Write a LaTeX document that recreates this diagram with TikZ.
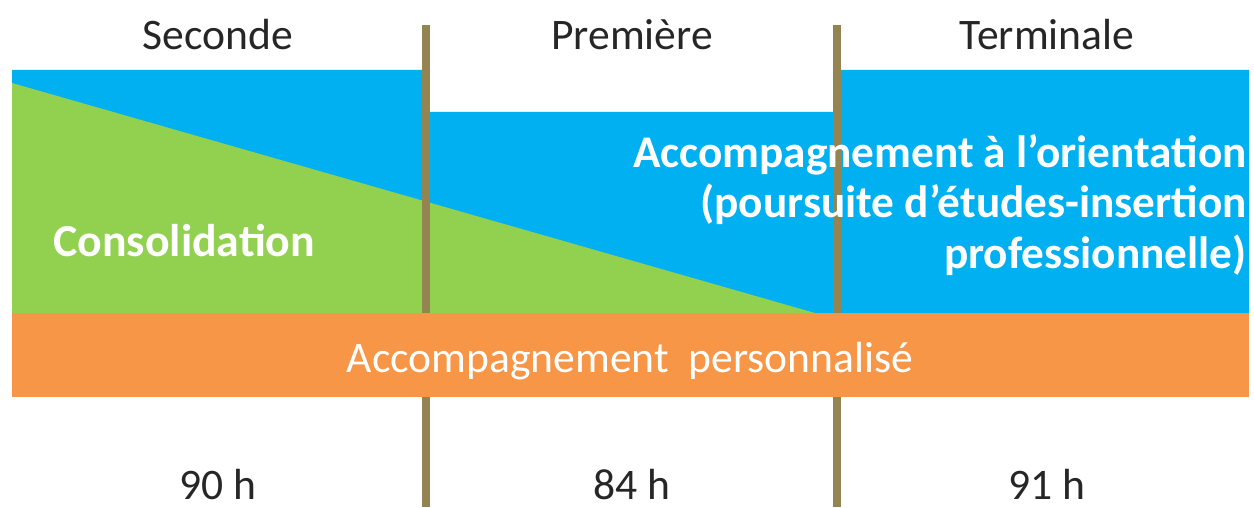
\documentclass[tikz,border=0pt]{standalone}
\usepackage{fontspec}
\setmainfont{Carlito}
\usepackage{tikz}

\definecolor{bleu}{RGB}{0,176,240}
\definecolor{vert}{RGB}{146,208,80}
\definecolor{orange}{RGB}{247,150,70}
\definecolor{poteau}{RGB}{148,132,82}
\definecolor{gris}{RGB}{38,38,38}

\begin{document}
\begin{tikzpicture}[x=0.025cm,y=0.025cm,
  annee/.style={anchor=base,inner sep=0,text=gris,font=\fontsize{31}{36}\selectfont},
  bande/.style={inner sep=0,text=white,font=\fontsize{31}{36}\selectfont}]
\useasboundingbox (0,0) rectangle (1254,507);
% fonds
\fill[bleu] (12,194) -- (12,437) -- (426,437) -- (426,395) -- (837,395) -- (837,437) -- (1249,437) -- (1249,194) -- cycle;
\fill[vert] (12,424) -- (815,194) -- (12,194) -- cycle;
\coordinate (h1) at (426,482);
\coordinate (b1) at (426,0);
\coordinate (h2) at (837,482);
\coordinate (b2) at (837,0);
\draw[-,poteau,line width=5.7pt] (h1) -- (b1);
\draw[-,poteau,line width=5.7pt] (h2) -- (b2);
\fill[orange] (12,110) rectangle (1249,194);
% textes
\node[annee] (2nde) at (218,457) {Seconde};
\node[annee] (1ere) at (632,457) {Première};
\node[annee] (tle) at (1047,457) {Terminale};
\node[bande,anchor=base west,font=\bfseries\fontsize{32.6}{36}\selectfont] (conso) at (53,250) {Consolidation};
\node[bande,anchor=east,align=right,font=\bfseries\fontsize{32.2}{36}\selectfont] (orient) at (1247,302) {Accompagnement à l’orientation\\(poursuite d’études-insertion\\professionnelle)};
\node[bande,anchor=base] (perso) at (630,135) {Accompagnement\ \ personnalisé};
\node[annee] (h2nde) at (218,8) {90 h};
\node[annee] (h1ere) at (632,8) {84 h};
\node[annee] (htle) at (1047,8) {91 h};
\end{tikzpicture}
\end{document}
